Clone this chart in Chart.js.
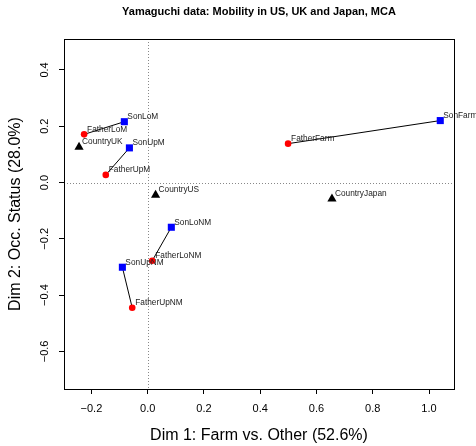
<!DOCTYPE html>
<html>
<head>
<meta charset="utf-8">
<script src="https://cdn.jsdelivr.net/npm/chart.js@4/dist/chart.umd.min.js"></script>
<style>
  html, body { margin: 0; padding: 0; background: #fff; }
  #chart { display: block; }
</style>
</head>
<body>
<canvas id="chart" width="476" height="446"></canvas>
<script>
// MCA coordinates
const fatherLabels = ['FatherLoM', 'FatherUpM', 'FatherFarm', 'FatherLoNM', 'FatherUpNM'];
const fatherX = [-0.226, -0.149, 0.499, 0.016, -0.055];
const fatherY = [0.171, 0.027, 0.138, -0.278, -0.445];

const sonLabels = ['SonLoM', 'SonUpM', 'SonFarm', 'SonLoNM', 'SonUpNM'];
const sonX = [-0.083, -0.065, 1.040, 0.084, -0.090];
const sonY = [0.216, 0.123, 0.220, -0.159, -0.301];

const countryLabels = ['CountryUK', 'CountryUS', 'CountryJapan'];
const countryX = [-0.244, 0.028, 0.655];
const countryY = [0.126, -0.045, -0.058];

const xTicks = [-0.2, 0.0, 0.2, 0.4, 0.6, 0.8, 1.0];
const yTicks = [-0.6, -0.4, -0.2, 0.0, 0.2, 0.4];

const chartTitle = 'Yamaguchi data: Mobility in US, UK and Japan, MCA';
const xTitle = 'Dim 1: Farm vs. Other (52.6%)';
const yTitle = 'Dim 2: Occ. Status (28.0%)';

const FONT = "'Liberation Sans', Arial, Helvetica, sans-serif";
Chart.defaults.font.family = FONT;
Chart.defaults.color = '#000';

const toPoints = (xs, ys) => xs.map((x, i) => ({ x: x, y: ys[i] }));
const fmt = v => v.toFixed(1).replace('-', '\u2212');

// segments father -> son
const pairDatasets = fatherX.map((fx, i) => ({
  type: 'line',
  data: [{ x: fx, y: fatherY[i] }, { x: sonX[i], y: sonY[i] }],
  borderColor: '#000',
  borderWidth: 1,
  pointRadius: 0,
  fill: false,
  order: 2
}));

const pointLabelsPlugin = {
  id: 'pointLabels',
  afterDatasetsDraw(chart) {
    const ctx = chart.ctx;
    ctx.save();
    ctx.font = '8.3px ' + FONT;
    ctx.fillStyle = '#222';
    ctx.textAlign = 'left';
    ctx.textBaseline = 'middle';
    chart.data.datasets.forEach((ds, i) => {
      if (!ds.pointNames) return;
      chart.getDatasetMeta(i).data.forEach((pt, j) => {
        ctx.fillText(ds.pointNames[j], pt.x + 3, pt.y - 5);
      });
    });
    ctx.restore();
  }
};

const framePlugin = {
  id: 'frame',
  beforeDatasetsDraw(chart) {
    const ctx = chart.ctx;
    const area = chart.chartArea;
    const xs = chart.scales.x;
    const ys = chart.scales.y;
    ctx.save();
    ctx.strokeStyle = '#888';
    ctx.lineWidth = 1;
    ctx.setLineDash([1, 2]);
    const x0 = Math.round(xs.getPixelForValue(0)) + 0.5;
    const y0 = Math.round(ys.getPixelForValue(0)) + 0.5;
    ctx.beginPath();
    ctx.moveTo(x0, area.top);
    ctx.lineTo(x0, area.bottom);
    ctx.moveTo(area.left, y0);
    ctx.lineTo(area.right, y0);
    ctx.stroke();
    ctx.restore();
  },
  afterDraw(chart) {
    const ctx = chart.ctx;
    const area = chart.chartArea;
    ctx.save();
    ctx.strokeStyle = '#000';
    ctx.lineWidth = 1;
    ctx.strokeRect(Math.round(area.left) + 0.5, Math.round(area.top) + 0.5,
      Math.round(area.right - area.left), Math.round(area.bottom - area.top));

    ctx.fillStyle = '#000';
    ctx.textAlign = 'center';
    ctx.textBaseline = 'middle';
    ctx.font = 'bold 11px ' + FONT;
    ctx.fillText(chartTitle, (area.left + area.right) / 2, 12);

    ctx.font = '16px ' + FONT;
    ctx.fillText(xTitle, (area.left + area.right) / 2, 436);

    ctx.translate(16, (area.top + area.bottom) / 2);
    ctx.rotate(-Math.PI / 2);
    ctx.fillText(yTitle, 0, 0);
    ctx.restore();
  }
};

new Chart(document.getElementById('chart'), {
  type: 'scatter',
  data: {
    datasets: [
      ...pairDatasets,
      {
        data: toPoints(fatherX, fatherY),
        pointNames: fatherLabels,
        pointStyle: 'circle',
        pointRadius: 3.3,
        backgroundColor: '#ff0000',
        borderColor: '#ff0000',
        borderWidth: 0,
        order: 1
      },
      {
        data: toPoints(sonX, sonY),
        pointNames: sonLabels,
        pointStyle: 'rect',
        pointRadius: 5,
        backgroundColor: '#0000ff',
        borderColor: '#0000ff',
        borderWidth: 0,
        order: 1
      },
      {
        data: toPoints(countryX, countryY),
        pointNames: countryLabels,
        pointStyle: 'triangle',
        pointRadius: 5.3,
        backgroundColor: '#000',
        borderColor: '#000',
        borderWidth: 0,
        order: 1
      }
    ]
  },
  options: {
    responsive: false,
    animation: false,
    layout: { padding: { top: 39, right: 22, left: 0, bottom: 0 } },
    plugins: {
      legend: { display: false },
      tooltip: { enabled: false }
    },
    scales: {
      x: {
        type: 'linear',
        min: -0.2975,
        max: 1.0888,
        afterBuildTicks: s => { s.ticks = xTicks.map(v => ({ value: v })); },
        afterFit: s => { s.height = 57; },
        grid: { drawOnChartArea: false, drawTicks: true, tickLength: 5, color: '#000' },
        border: { display: true, color: '#000' },
        ticks: {
          font: { size: 11 },
          padding: 8,
          maxRotation: 0,
          callback: v => fmt(v)
        }
      },
      y: {
        type: 'linear',
        min: -0.7336,
        max: 0.5098,
        afterBuildTicks: s => { s.ticks = yTicks.map(v => ({ value: v })); },
        afterFit: s => { s.width = 64; },
        grid: { drawOnChartArea: false, drawTicks: true, tickLength: 5, color: '#000' },
        border: { display: true, color: '#000' },
        ticks: {
          font: { size: 11 },
          padding: 3,
          minRotation: 90,
          maxRotation: 90,
          crossAlign: 'center',
          callback: v => fmt(v)
        }
      }
    }
  },
  plugins: [framePlugin, pointLabelsPlugin]
});
</script>
</body>
</html>
